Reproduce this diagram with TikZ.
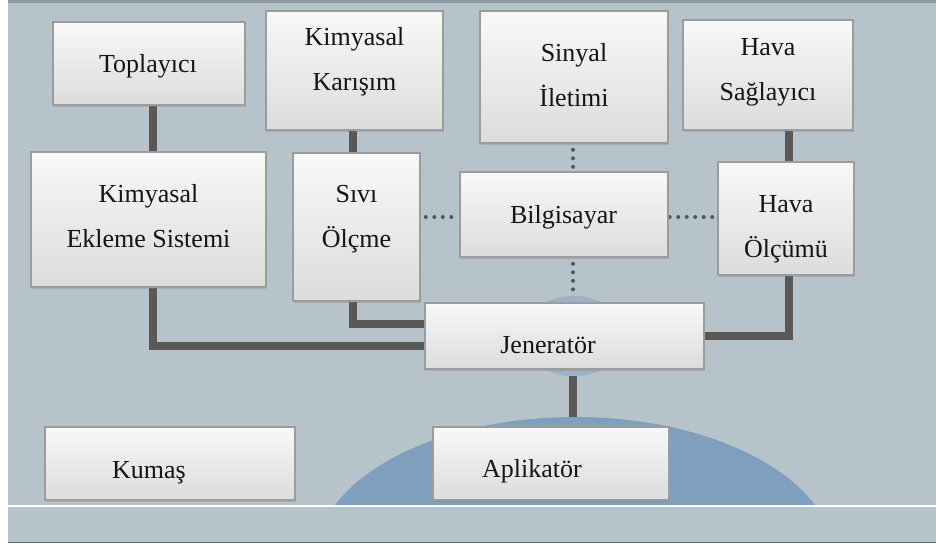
\documentclass[tikz,border=0pt]{standalone}
\usepackage{fontspec}
\setmainfont{Liberation Serif}
\usetikzlibrary{calc,shadows}

\definecolor{panel}{HTML}{B6C3CA}
\definecolor{panelrim}{HTML}{8E999F}
\definecolor{panelfoot}{HTML}{5F6C75}
\definecolor{domeblue}{HTML}{7F9FBD}
\definecolor{domelight}{HTML}{9DB2C4}
\definecolor{wire}{HTML}{5A5857}
\definecolor{dotc}{HTML}{4E5862}
\definecolor{boxrim}{HTML}{9C9C9C}
\definecolor{boxtop}{HTML}{F8F8F8}
\definecolor{boxbot}{HTML}{DCDCDC}

\pgfdeclarelayer{back}
\pgfdeclarelayer{mid}
\pgfsetlayers{back,mid,main}

\tikzset{
  box/.style={draw=boxrim, line width=1.6pt, inner sep=0pt,
    top color=boxtop, bottom color=boxbot,
    drop shadow={shadow xshift=1.2pt, shadow yshift=-1.8pt, opacity=0.3}},
  lbl/.style={font=\fontsize{26}{45}\selectfont, align=center, inner sep=0pt, text=black!92},
  wirepath/.style={draw=wire, line width=8pt},
  dotpath/.style={draw=dotc, line width=4pt, line cap=round, dash pattern=on 0pt off 8.5pt}
}

\begin{document}
\begin{tikzpicture}[x=1pt, y=-1pt]
\useasboundingbox (0,0) rectangle (936,547);

% panel and floor
\begin{pgfonlayer}{back}
\fill[white] (0,0) rectangle (936,547);
\fill[panel] (8,0) rectangle (936,542);
\fill[panelrim] (8,0) rectangle (936,3);
\draw[panelfoot, line width=1pt] (8,542) -- (936,542);
\end{pgfonlayer}

% domes behind the generator and the applicator
\begin{pgfonlayer}{mid}
\begin{scope}
  \clip (8,0) rectangle (936,506);
  \fill[domeblue] (575,560) ellipse [x radius=260, y radius=143];
\end{scope}
\fill[domelight] (574,336) ellipse [x radius=52, y radius=40];
\draw[white, line width=2pt] (8,506) -- (936,506);
\end{pgfonlayer}

% boxes
\node[box, minimum width=192pt, minimum height=83pt]  (top) at (149,63.5) {};
\node[box, minimum width=177pt, minimum height=119pt] (kk)  at (354.5,70.5) {};
\node[box, minimum width=188pt, minimum height=132pt] (si)  at (574,77) {};
\node[box, minimum width=170pt, minimum height=110pt] (hs)  at (768,75) {};
\node[box, minimum width=235pt, minimum height=135pt] (eks) at (148.5,219.5) {};
\node[box, minimum width=127pt, minimum height=148pt] (sv)  at (356.5,227) {};
\node[box, minimum width=208pt, minimum height=85pt]  (bil) at (564,214.5) {};
\node[box, minimum width=136pt, minimum height=113pt] (ho)  at (786,218.5) {};
\node[box, minimum width=279pt, minimum height=66pt]  (jen) at (564.5,336) {};
\node[box, minimum width=250pt, minimum height=73pt]  (kum) at (170,463.5) {};
\node[box, minimum width=236pt, minimum height=73pt]  (apl) at (551,463.5) {};

% labels
\node[lbl, anchor=base] (topt) at (148,72)   {Toplayıcı};
\node[lbl] (kkt)  at (354.5,61.5) {Kimyasal\\Karışım};
\node[lbl] (sit)  at (574,75.5)   {Sinyal\\İletimi};
\node[lbl] (hst)  at (768,72)     {Hava\\Sağlayıcı};
\node[lbl] (ekst) at (148.5,216.5) {Kimyasal\\Ekleme Sistemi};
\node[lbl] (svt)  at (356.5,219)  {Sıvı\\Ölçme};
\node[lbl, anchor=base] (bilt) at (563.5,223) {Bilgisayar};
\node[lbl] (hot)  at (786,229)    {Hava\\Ölçümü};
\node[lbl, anchor=base] (jent) at (548,353) {Jeneratör};
\node[lbl, anchor=base] (kumt) at (149,478) {Kumaş};
\node[lbl, anchor=base] (aplt) at (532,477) {Aplikatör};

% links, drawn beneath the domes and the boxes
\begin{pgfonlayer}{back}
\coordinate (ekso) at ($(eks.south)+(4.5,0)$);
\coordinate (svo)  at ($(sv.south)+(-3.5,0)$);
\coordinate (hoo)  at ($(ho.south)+(3,0)$);
\coordinate (hso)  at ($(hs.south)+(21,0)$);
\coordinate (jeno) at ($(jen.south)+(8.5,0)$);
\coordinate (topo) at ($(top.south)+(4,0)$);
\coordinate (kko)  at ($(kk.south)+(-1.5,0)$);

\draw[wirepath] (topo) -- (topo |- eks.north);
\draw[wirepath] (kko) -- (kko |- sv.north);
\draw[wirepath] (hso) -- (hso |- ho.north);
\draw[wirepath] (ekso) |- ($(jen.west)+(0,10)$);
\draw[wirepath] (svo) |- ($(jen.west)+(0,-12)$);
\draw[wirepath] (hoo) |- ($(jen.east)+(0,-0.5)$);
\draw[wirepath] (jeno) -- (jeno |- apl.north);

\coordinate (sio)  at ($(si.south)+(-1,0)$);
\coordinate (bilo) at ($(bil.south)+(9,0)$);
\coordinate (svd)  at ($(sv.east)+(0,-10)$);
\coordinate (hod)  at ($(ho.west)+(0,-1.5)$);
\draw[dotpath] ($(sio)+(0,6)$) -- (sio |- bil.north);
\draw[dotpath] ($(bilo)+(0,6)$) -- (bilo |- jen.north);
\draw[dotpath] ($(svd)+(5,0)$) -- (svd -| bil.west);
\draw[dotpath] ($(hod)+(-5,0)$) -- (hod -| bil.east);
\end{pgfonlayer}

\end{tikzpicture}
\end{document}
